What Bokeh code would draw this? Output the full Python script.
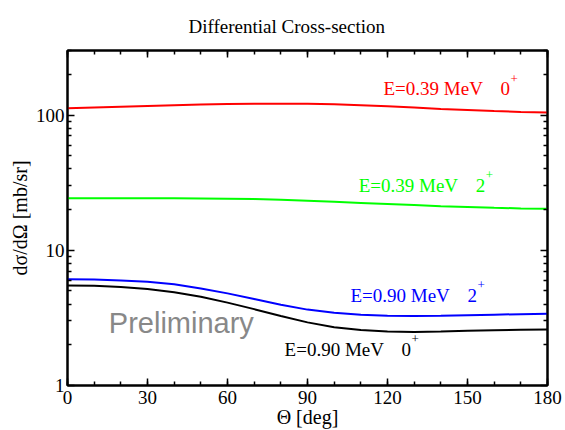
from bokeh.plotting import figure
from bokeh.models import (Range1d, LinearAxis, LogAxis, FixedTicker, Label,
                          PrintfTickFormatter, CustomJSTickFormatter)
from bokeh.embed import file_html
from bokeh.resources import INLINE

# ---- data ----
theta = [0, 10, 20, 30, 40, 50, 60, 70, 80, 90, 100, 110, 120, 130, 140, 150, 160, 170, 180]
red_039_0 = [112, 113.5, 115, 116.5, 118, 119.5, 120.5, 121, 121.2, 121, 120, 118, 116, 113.5, 111, 109, 107, 105.5, 104.5]
green_039_2 = [24.2, 24.2, 24.2, 24.2, 24.2, 24.1, 24.0, 23.9, 23.6, 23.2, 22.8, 22.4, 22.0, 21.6, 21.2, 20.9, 20.6, 20.4, 20.3]
blue_090_2 = [6.1, 6.07, 5.98, 5.84, 5.6, 5.22, 4.8, 4.36, 3.96, 3.64, 3.45, 3.33, 3.28, 3.27, 3.28, 3.31, 3.34, 3.37, 3.39]
black_090_0 = [5.5, 5.46, 5.36, 5.17, 4.9, 4.53, 4.1, 3.67, 3.27, 2.93, 2.7, 2.57, 2.51, 2.49, 2.51, 2.54, 2.56, 2.58, 2.59]

x_ticks = [0, 30, 60, 90, 120, 150, 180]
x_minor = [v for v in range(0, 181, 10)]
y_ticks = [1, 10, 100]
y_minor = [2, 3, 4, 5, 6, 7, 8, 9, 20, 30, 40, 50, 60, 70, 80, 90, 200, 300]

TITLE = "Differential Cross-section"
X_LABEL = "Θ [deg]"
Y_LABEL = "dσ/dΩ [mb/sr]"

SERIF = "Liberation Serif"

p = figure(width=565, height=430, x_range=Range1d(0, 180), y_range=Range1d(1, 300),
           y_axis_type="log", output_backend="svg", toolbar_location=None,
           min_border_left=67, min_border_right=18, min_border_top=50, min_border_bottom=43,
           title=TITLE)
p.title.text_font = SERIF
p.title.text_font_style = "normal"
p.title.text_font_size = "19px"
p.title.align = "left"
p.title.offset = 121
p.title.standoff = 27
p.title.text_color = "black"

p.xgrid.visible = False
p.ygrid.visible = False
p.outline_line_color = "black"
p.outline_line_width = 2

def style_axis(ax, ticks, minor):
    ax.ticker = FixedTicker(ticks=ticks, minor_ticks=minor)
    ax.axis_line_width = 2
    ax.axis_line_color = "black"
    ax.major_tick_in = 7
    ax.major_tick_out = 0
    ax.minor_tick_in = 4
    ax.minor_tick_out = 0
    ax.major_tick_line_width = 1.5
    ax.minor_tick_line_width = 1.5
    ax.major_label_text_font = SERIF
    ax.major_label_text_font_size = "19px"
    ax.major_label_text_color = "black"
    ax.major_label_standoff = 2
    ax.axis_label_text_font = SERIF
    ax.axis_label_text_font_style = "normal"
    ax.axis_label_text_font_size = "20px"
    ax.axis_label_text_color = "black"

xa = p.xaxis[0]
style_axis(xa, x_ticks, x_minor)
xa.axis_label = X_LABEL
xa.major_label_standoff = 5
xa.axis_label_standoff = -1

ya = p.yaxis[0]
style_axis(ya, y_ticks, y_minor)
ya.formatter = PrintfTickFormatter(format="%d")
ya.axis_label = Y_LABEL
ya.major_label_standoff = 3
ya.axis_label_standoff = 2

top = LinearAxis()
style_axis(top, x_ticks, x_minor)
top.formatter = CustomJSTickFormatter(code="return ''")
top.major_label_text_font_size = "1px"
top.major_label_standoff = 0
p.add_layout(top, "above")
right = LogAxis()
style_axis(right, y_ticks, y_minor)
right.formatter = CustomJSTickFormatter(code="return ''")
right.major_label_text_font_size = "1px"
right.major_label_standoff = 0
p.add_layout(right, "right")

p.line(theta, red_039_0, line_color="#ff0000", line_width=2)
p.line(theta, green_039_2, line_color="#00ff00", line_width=2)
p.line(theta, blue_090_2, line_color="#0000ff", line_width=2)
p.line(theta, black_090_0, line_color="black", line_width=2)

def add_state_label(x, y, energy, spin, color):
    p.add_layout(Label(x=x, y=y, text=energy, text_font=SERIF, text_font_size="19px",
                       text_color=color, text_baseline="alphabetic"))
    p.add_layout(Label(x=x, y=y, x_offset=117, text=spin, text_font=SERIF, text_font_size="19px",
                       text_color=color, text_baseline="alphabetic"))
    p.add_layout(Label(x=x, y=y, x_offset=127, y_offset=10, text="+", text_font=SERIF,
                       text_font_size="13px", text_color=color, text_baseline="alphabetic"))

add_state_label(118.5, 157, "E=0.39 MeV", "0", "#ff0000")
add_state_label(109.2, 30.2, "E=0.39 MeV", "2", "#00ff00")
add_state_label(106.1, 4.63, "E=0.90 MeV", "2", "#0000ff")
add_state_label(81.4, 1.85, "E=0.90 MeV", "0", "black")

p.add_layout(Label(x=15.5, y=2.88, text="Preliminary", text_font="Liberation Sans",
                   text_font_size="29px", text_color="#888888", text_baseline="alphabetic"))

open("out.html", "w").write(file_html(p, INLINE))
